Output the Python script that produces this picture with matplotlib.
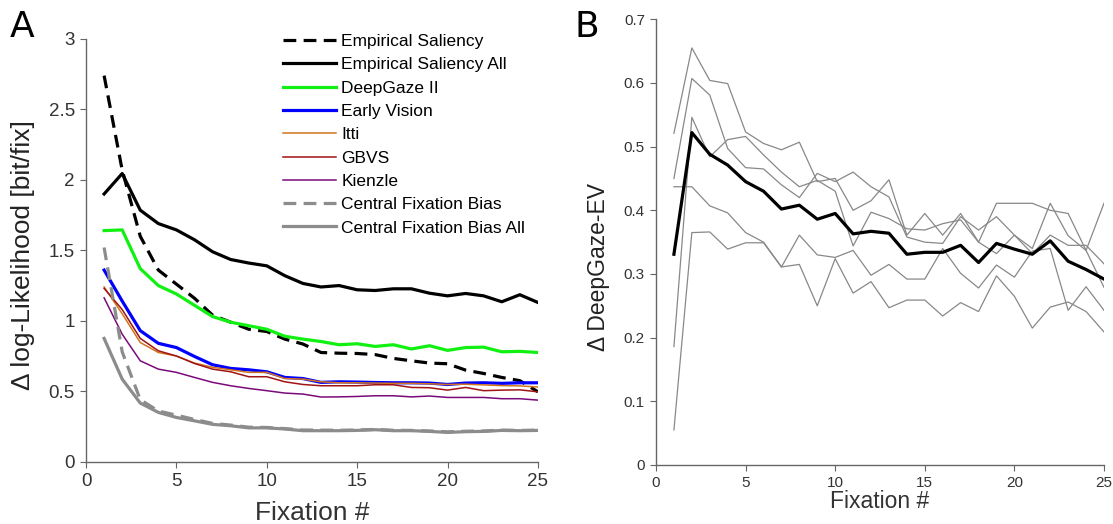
import numpy as np
import matplotlib.pyplot as plt
from matplotlib.ticker import FuncFormatter

plt.rcParams['font.family'] = ['Liberation Sans', 'DejaVu Sans']

fixation = np.arange(1, 26)

# panel A: delta log-likelihood per fixation
emp_saliency = [2.74, 2.07, 1.60, 1.36, 1.26, 1.16, 1.04, 0.99, 0.94, 0.924, 0.87, 0.835, 0.775, 0.77,
                0.768, 0.76, 0.733, 0.716, 0.70, 0.695, 0.65, 0.626, 0.598, 0.575, 0.496]
emp_saliency_all = [1.90, 2.045, 1.785, 1.69, 1.645, 1.575, 1.49, 1.435, 1.41, 1.39, 1.32, 1.265, 1.24, 1.25,
                    1.22, 1.215, 1.227, 1.227, 1.196, 1.177, 1.194, 1.177, 1.135, 1.185, 1.13]
deepgaze = [1.64, 1.645, 1.37, 1.25, 1.19, 1.11, 1.03, 0.99, 0.965, 0.94, 0.89, 0.87, 0.853, 0.83,
            0.837, 0.818, 0.83, 0.80, 0.823, 0.79, 0.81, 0.813, 0.78, 0.783, 0.775]
early_vision = [1.36, 1.14, 0.93, 0.84, 0.81, 0.747, 0.688, 0.662, 0.652, 0.638, 0.598, 0.59, 0.563, 0.567,
                0.565, 0.562, 0.56, 0.56, 0.558, 0.548, 0.558, 0.56, 0.556, 0.56, 0.56]
itti = [1.24, 1.05, 0.846, 0.775, 0.75, 0.70, 0.67, 0.652, 0.634, 0.634, 0.59, 0.586, 0.567, 0.56,
        0.56, 0.558, 0.556, 0.556, 0.553, 0.548, 0.55, 0.545, 0.54, 0.538, 0.53]
gbvs = [1.23, 1.08, 0.875, 0.787, 0.75, 0.697, 0.657, 0.638, 0.603, 0.603, 0.567, 0.548, 0.539, 0.539,
        0.539, 0.546, 0.546, 0.527, 0.525, 0.508, 0.527, 0.504, 0.508, 0.51, 0.496]
kienzle = [1.163, 0.905, 0.716, 0.657, 0.634, 0.598, 0.563, 0.539, 0.52, 0.504, 0.487, 0.48, 0.459, 0.46,
           0.463, 0.468, 0.468, 0.46, 0.466, 0.456, 0.456, 0.456, 0.447, 0.447, 0.437]
cfb = [1.52, 0.78, 0.44, 0.36, 0.33, 0.30, 0.272, 0.26, 0.245, 0.243, 0.235, 0.225, 0.224, 0.223,
       0.225, 0.229, 0.223, 0.222, 0.218, 0.212, 0.216, 0.218, 0.224, 0.222, 0.224]
cfb_all = [0.875, 0.586, 0.416, 0.35, 0.314, 0.29, 0.265, 0.255, 0.24, 0.24, 0.232, 0.22, 0.22, 0.22,
           0.222, 0.227, 0.22, 0.22, 0.215, 0.208, 0.213, 0.215, 0.222, 0.22, 0.222]

# panel B: DeepGaze minus Early Vision, individual runs and mean
diff_runs = [
    [0.521, 0.655, 0.604, 0.599, 0.523, 0.505, 0.495, 0.507, 0.445, 0.450, 0.400, 0.415, 0.448, 0.361,
     0.395, 0.361, 0.395, 0.350, 0.411, 0.411, 0.411, 0.400, 0.395, 0.337, 0.279],
    [0.450, 0.607, 0.581, 0.497, 0.467, 0.465, 0.440, 0.420, 0.458, 0.445, 0.460, 0.437, 0.421, 0.358,
     0.350, 0.348, 0.390, 0.369, 0.390, 0.361, 0.340, 0.411, 0.360, 0.337, 0.411],
    [0.186, 0.546, 0.484, 0.511, 0.516, 0.487, 0.460, 0.437, 0.447, 0.430, 0.344, 0.397, 0.387, 0.371,
     0.369, 0.379, 0.385, 0.350, 0.332, 0.361, 0.332, 0.361, 0.345, 0.345, 0.316],
    [0.437, 0.437, 0.407, 0.396, 0.365, 0.350, 0.311, 0.361, 0.330, 0.326, 0.337, 0.298, 0.315, 0.292,
     0.292, 0.340, 0.301, 0.278, 0.314, 0.295, 0.336, 0.340, 0.243, 0.280, 0.243],
    [0.055, 0.365, 0.366, 0.339, 0.349, 0.349, 0.311, 0.315, 0.250, 0.324, 0.270, 0.288, 0.247, 0.259,
     0.259, 0.234, 0.255, 0.241, 0.297, 0.265, 0.215, 0.248, 0.256, 0.241, 0.209],
]
diff_mean = [0.331, 0.522, 0.488, 0.471, 0.445, 0.430, 0.402, 0.408, 0.386, 0.395, 0.363, 0.367, 0.364,
             0.331, 0.334, 0.334, 0.345, 0.318, 0.348, 0.339, 0.331, 0.352, 0.320, 0.307, 0.292]

fmt = FuncFormatter(lambda v, p: '%g' % round(v, 2))


def style_axes(ax, fs):
    for s in ['top', 'right']:
        ax.spines[s].set_visible(False)
    for s in ['left', 'bottom']:
        ax.spines[s].set_color('#666666')
        ax.spines[s].set_linewidth(1.0)
    ax.tick_params(direction='out', length=4, width=0.8, color='#666666',
                   labelcolor='#333333', labelsize=fs, pad=4)
    ax.yaxis.set_major_formatter(fmt)


fig = plt.figure(figsize=(11.13, 5.24), dpi=100)
ax1 = fig.add_axes([0.0773, 0.1189, 0.406, 0.8067])
ax2 = fig.add_axes([0.5894, 0.1126, 0.4025, 0.8506])

thick = 2.3
thin = 1.1
ax1.plot(fixation, emp_saliency, color='black', lw=thick, dashes=(4, 2.3), label='Empirical Saliency')
ax1.plot(fixation, emp_saliency_all, color='black', lw=thick, label='Empirical Saliency All')
ax1.plot(fixation, deepgaze, color='#11f011', lw=thick, label='DeepGaze II')
ax1.plot(fixation, early_vision, color='#0000ff', lw=thick, label='Early Vision')
ax1.plot(fixation, itti, color='#d2741e', lw=thin, label='Itti')
ax1.plot(fixation, gbvs, color='#a01414', lw=thin, label='GBVS')
ax1.plot(fixation, kienzle, color='#7a0a7a', lw=thin, label='Kienzle')
ax1.plot(fixation, cfb, color='#8c8c8c', lw=thick, dashes=(4, 2.3), label='Central Fixation Bias')
ax1.plot(fixation, cfb_all, color='#8c8c8c', lw=thick, label='Central Fixation Bias All')

ax1.set_xlim(0, 25)
ax1.set_ylim(0, 3)
ax1.set_xticks(range(0, 26, 5))
ax1.set_yticks(np.arange(0, 3.01, 0.5))
style_axes(ax1, 13.5)
ax1.set_xlabel('Fixation #', fontsize=19, color='#333333')
ax1.xaxis.set_label_coords(0.5, -0.092)
ax1.set_ylabel('Δ log-Likelihood [bit/fix]', fontsize=19, color='#222222')
ax1.yaxis.set_label_coords(-0.113, 0.49)
ax1.legend(loc='upper left', bbox_to_anchor=(0.436, 1.012), frameon=False, fontsize=12.5,
           handlelength=3.05, handletextpad=0.3, labelspacing=0.47, borderpad=0, borderaxespad=0)

for run in diff_runs:
    ax2.plot(fixation, run, color='#888888', lw=0.9)
ax2.plot(fixation, diff_mean, color='black', lw=thick)
ax2.set_xlim(0, 25)
ax2.set_ylim(0, 0.7)
ax2.set_xticks(range(0, 26, 5))
ax2.set_yticks(np.arange(0, 0.701, 0.1))
style_axes(ax2, 11)
ax2.set_xlabel('Fixation #', fontsize=16.5, color='#333333')
ax2.xaxis.set_label_coords(0.5, -0.056)
ax2.set_ylabel('Δ DeepGaze-EV', fontsize=16.5, color='#222222')
ax2.yaxis.set_label_coords(-0.103, 0.444)

fig.text(0.009, 0.93, 'A', fontsize=26, family='DejaVu Sans')
fig.text(0.516, 0.93, 'B', fontsize=26, family='DejaVu Sans')

fig.savefig('out.png', dpi=100)
